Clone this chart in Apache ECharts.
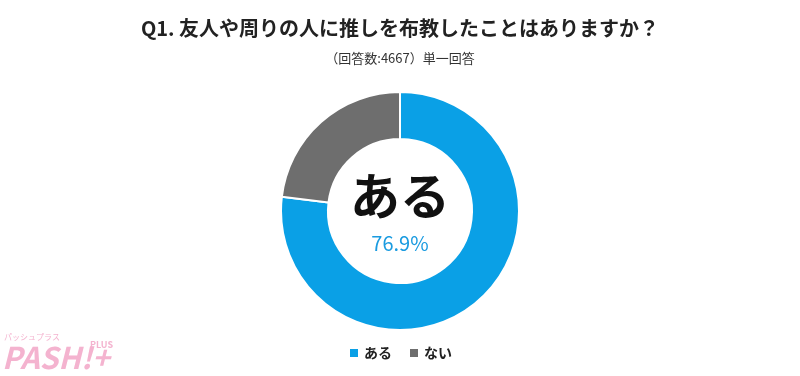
<!DOCTYPE html>
<html>
<head>
<meta charset="utf-8">
<script src="https://cdn.jsdelivr.net/npm/echarts@6/dist/echarts.min.js"></script>
<style>
html,body{margin:0;padding:0;background:#fff;}
#chart{width:800px;height:376px;}
</style>
</head>
<body>
<div id="chart"></div>
<script>
const categories = ['ある', 'ない'];
const values = [76.9, 23.1];
const colors = ['#0AA0E6', '#6E6E6E'];
const titleText = 'Q1. 友人や周りの人に推しを布教したことはありますか？';
const subText = '（回答数:4667）単一回答';

const chart = echarts.init(document.getElementById('chart'));
const font = '"Noto Sans CJK JP", "Noto Sans", sans-serif';
chart.setOption({
  backgroundColor: '#fff',
  animation: false,
  title: {
    text: titleText,
    subtext: subText,
    left: 'center',
    top: 13,
    itemGap: 14,
    textStyle: { fontFamily: font, fontSize: 20, fontWeight: 'bold', color: '#222' },
    subtextStyle: { fontFamily: font, fontSize: 13, color: '#333' }
  },
  legend: {
    bottom: 11,
    left: 'center',
    icon: 'rect',
    itemWidth: 10,
    itemHeight: 10,
    itemGap: 16,
    textStyle: { fontFamily: font, fontSize: 14, fontWeight: 'bold', color: '#222' },
    data: categories
  },
  series: [{
    type: 'pie',
    center: [400, 211],
    radius: [72, 119],
    startAngle: 90,
    clockwise: true,
    label: { show: false },
    labelLine: { show: false },
    emphasis: { disabled: true },
    itemStyle: { borderColor: '#fff', borderWidth: 2 },
    data: categories.map((c, i) => ({ name: c, value: values[i], itemStyle: { color: colors[i] } }))
  }],
  graphic: [
    { type: 'text', left: 'center', top: 171, style: { text: categories[0], fontFamily: font, fontSize: 50, fontWeight: 'bold', fill: '#111' } },
    { type: 'text', left: 'center', top: 233, style: { text: values[0] + '%', fontFamily: font, fontSize: 20, fill: '#1A9BE0' } },
    { type: 'text', left: 4, top: 333, style: { text: 'パッシュプラス', fontFamily: font, fontSize: 8, fill: '#F4B3CF' } },
    { type: 'text', left: 2, top: 343, style: { text: 'PASH!+', fontFamily: font, fontSize: 30, fontWeight: 'bold', fontStyle: 'italic', fill: '#F4B3CF' } },
    { type: 'text', left: 90, top: 340, style: { text: 'PLUS', fontFamily: font, fontSize: 9, fontWeight: 'bold', fill: '#F4B3CF' } }
  ]
});
</script>
</body>
</html>
